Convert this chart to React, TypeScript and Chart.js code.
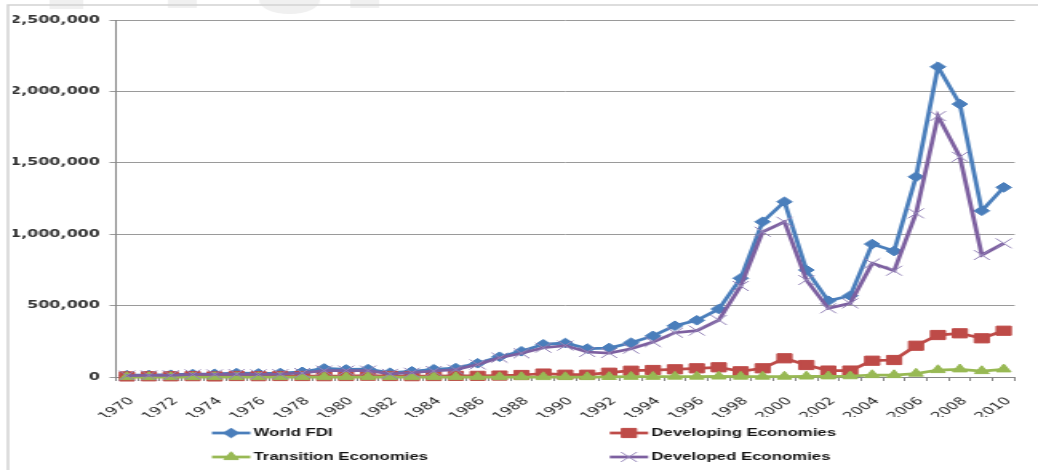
import React, { useEffect, useRef } from 'react';
import { Chart, registerables } from 'chart.js';
import { drawPoint } from 'chart.js/helpers';

Chart.register(...registerables);

const years: string[] = [
  '1970','1971','1972','1973','1974','1975','1976','1977','1978','1979',
  '1980','1981','1982','1983','1984','1985','1986','1987','1988','1989',
  '1990','1991','1992','1993','1994','1995','1996','1997','1998','1999',
  '2000','2001','2002','2003','2004','2005','2006','2007','2008','2009','2010',
];

const worldFDI: number[] = [
  13000, 14000, 16000, 21000, 22000, 27000, 25000, 28000, 36000, 60000,
  53000, 55000, 30000, 40000, 54000, 62000, 96000, 142000, 180000, 229000,
  238000, 199000, 203000, 240000, 288000, 359000, 397000, 476000, 691000, 1087000,
  1227000, 749000, 534000, 569000, 931000, 882000, 1402000, 2172000, 1911000, 1164000, 1328000,
];

const developing: number[] = [
  4000, 5000, 5000, 6000, 4000, 7000, 6000, 7000, 7000, 6000,
  7000, 9000, 7000, 6000, 7000, 8000, 8000, 10000, 14000, 24000,
  16000, 16000, 30000, 44000, 49000, 54000, 61000, 68000, 40000, 61000,
  131000, 84000, 45000, 45000, 114000, 119000, 219000, 294000, 306000, 271000, 324000,
];

const transition: number[] = [
  0, 0, 0, 0, 0, 0, 0, 0, 0, 0,
  0, 0, 0, 0, 0, 0, 0, 0, 0, 0,
  0, 0, 1000, 2000, 2000, 3000, 3000, 4000, 3000, 3000,
  3000, 4000, 5000, 6000, 14000, 14000, 24000, 49000, 54000, 42000, 54000,
];

const developed: number[] = [
  10000, 11000, 12000, 18000, 18000, 20000, 18000, 20000, 28000, 45000,
  45000, 45000, 22000, 30000, 42000, 52000, 88000, 135000, 166000, 205000,
  220000, 175000, 168000, 198000, 245000, 310000, 325000, 399000, 637000, 1017000,
  1087000, 679000, 481000, 516000, 796000, 744000, 1146000, 1827000, 1542000, 854000, 936000,
];

const seriesLabels: string[] = ['World FDI', 'Developing Economies', 'Transition Economies', 'Developed Economies'];

const INTERNAL_W = 649;
const H = 470;

const frameAndLegend = {
  id: 'frameAndLegend',
  beforeDraw(chart: any) {
    const ctx = chart.ctx;
    ctx.save();
    ctx.fillStyle = '#ffffff';
    ctx.fillRect(0, 0, chart.width, chart.height);
    // faint watermark blobs at top edge
    ctx.fillStyle = '#f0f0f0';
    ctx.fillRect(31, 0, 21, 9);
    ctx.fillRect(105, 0, 18, 8);
    ctx.beginPath();
    ctx.ellipse(181, 0, 19, 14, 0, 0, Math.PI);
    ctx.fill();
    ctx.fillRect(219, 0, 18, 8);
    // frame
    ctx.strokeStyle = '#d2d2d2';
    ctx.lineWidth = 1.5;
    ctx.beginPath();
    ctx.moveTo(5, H);
    ctx.lineTo(5, 5);
    ctx.lineTo(INTERNAL_W, 5);
    ctx.stroke();
    ctx.restore();
  },
  afterDraw(chart: any) {
    const ctx = chart.ctx;
    const cols = [132.5, 381.25];
    const rows = [433, 457];
    chart.data.datasets.forEach((ds: any, i: number) => {
      const x0 = cols[i % 2];
      const y = rows[Math.floor(i / 2)];
      ctx.save();
      ctx.strokeStyle = ds.borderColor;
      ctx.lineWidth = ds.borderWidth;
      ctx.beginPath();
      ctx.moveTo(x0, y);
      ctx.lineTo(x0 + 24, y);
      ctx.stroke();
      ctx.fillStyle = ds.pointBackgroundColor;
      ctx.strokeStyle = ds.pointBorderColor;
      ctx.lineWidth = ds.pointBorderWidth;
      drawPoint(ctx, { pointStyle: ds.pointStyle, radius: ds.pointRadius, rotation: 0, borderWidth: ds.pointBorderWidth }, x0 + 12, y);
      ctx.fillStyle = '#141414';
      ctx.font = 'bold 10.5px "Liberation Sans"';
      ctx.textBaseline = 'middle';
      ctx.textAlign = 'left';
      ctx.fillText(ds.label, x0 + 26, y);
      ctx.restore();
    });
  },
};

export default function App() {
  const canvasRef = useRef<HTMLCanvasElement | null>(null);

  useEffect(() => {
    const canvas = canvasRef.current;
    if (!canvas) return;
    const blue = '#4A7EBB';
    const red = '#BE4B48';
    const green = '#98B954';
    const purple = '#7D60A0';
    const chart = new Chart(canvas, {
      type: 'line',
      data: {
        labels: years,
        datasets: [
          {
            label: seriesLabels[0], data: worldFDI, borderColor: blue, backgroundColor: blue,
            pointBackgroundColor: blue, pointBorderColor: blue, pointStyle: 'rectRot', pointRadius: 4.8,
            pointBorderWidth: 1, borderWidth: 2.75, tension: 0, clip: false, order: 4,
          },
          {
            label: seriesLabels[1], data: developing, borderColor: red, backgroundColor: red,
            pointBackgroundColor: red, pointBorderColor: red, pointStyle: 'rect', pointRadius: 6.5,
            pointBorderWidth: 1, borderWidth: 2.75, tension: 0, clip: false, order: 3,
          },
          {
            label: seriesLabels[2], data: transition, borderColor: green, backgroundColor: green,
            pointBackgroundColor: green, pointBorderColor: green, pointStyle: 'triangle', pointRadius: 5.2,
            pointBorderWidth: 1, borderWidth: 2.75, tension: 0, clip: false, order: 2,
          },
          {
            label: seriesLabels[3], data: developed, borderColor: purple, backgroundColor: purple,
            pointBackgroundColor: purple, pointBorderColor: '#9484B8', pointStyle: 'crossRot', pointRadius: 7,
            pointBorderWidth: 1, borderWidth: 2.75, tension: 0, clip: false, order: 1,
          },
        ] as any,
      },
      options: {
        responsive: false,
        animation: false,
        devicePixelRatio: 1,
        events: [],
        layout: { padding: { left: 8, right: 14.6, top: 20, bottom: 53 } },
        plugins: {
          legend: { display: false },
          tooltip: { enabled: false },
        },
        scales: {
          x: {
            offset: true,
            grid: { display: true, drawOnChartArea: false, drawTicks: true, tickLength: 4, offset: true, color: '#868686' },
            border: { color: '#868686', width: 1 },
            ticks: {
              autoSkip: false, maxRotation: 45, minRotation: 45, padding: 14, labelOffset: 3,
              color: '#262626', font: { family: 'DejaVu Sans', size: 10.5 },
              callback: (_v: any, i: number) => (i % 2 === 0 ? years[i] : ''),
            },
            afterFit: (s: any) => { s.height = 40; s.paddingLeft = 0; s.paddingRight = 0; },
          },
          y: {
            min: 0, max: 2500000,
            grid: { color: '#9a9a9a', tickLength: 4, lineWidth: 1 },
            border: { color: '#868686', width: 1 },
            ticks: {
              stepSize: 500000, padding: 6, color: '#333333',
              font: { family: 'DejaVu Sans', size: 10, weight: 'bold' },
              callback: (v: any) => Number(v).toLocaleString('en-US'),
            },
            afterFit: (s: any) => { s.width = 64.5; s.paddingTop = 0; s.paddingBottom = 0; },
          },
        },
      } as any,
      plugins: [frameAndLegend],
    });
    canvas.style.width = '1038px';
    canvas.style.height = '470px';
    return () => chart.destroy();
  }, []);

  return (
    <div style={{ position: 'absolute', left: 0, top: 0, width: 1038, height: 470, background: '#fff' }}>
      <canvas ref={canvasRef} width={INTERNAL_W} height={H} style={{ width: '1038px', height: '470px', display: 'block' }} />
    </div>
  );
}
